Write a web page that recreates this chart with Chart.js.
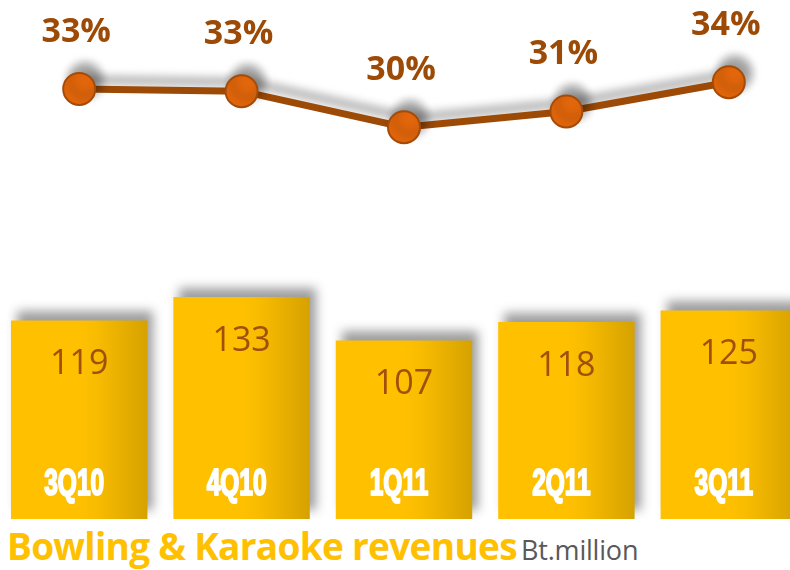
<!DOCTYPE html>
<html>
<head>
<meta charset="utf-8">
<script src="https://cdn.jsdelivr.net/npm/chart.js@4.4.0/dist/chart.umd.min.js"></script>
<style>
  html, body { margin: 0; padding: 0; background: #fff; overflow: hidden; width: 790px; height: 570px; }
  #wrap { position: absolute; left: -2px; top: 0; width: 812px; height: 519px; }
  #title { position: absolute; left: 7px; top: 520px; white-space: nowrap; font-family: "Open Sans", sans-serif; }
  #title b { color: #FFC000; font-size: 37px; font-weight: 700; letter-spacing: -0.7px; }
  #title span { color: #595959; font-size: 27px; letter-spacing: -0.2px; }
</style>
</head>
<body>
<div id="wrap"><canvas id="comboChart"></canvas></div>
<div id="title"><b>Bowling &amp; Karaoke revenues</b> <span>Bt.million</span></div>
<script>
/*--Data--*/
var categories = ['3Q10', '4Q10', '1Q11', '2Q11', '3Q11'];
var revenues = [119, 133, 107, 118, 125];
var margins = [33.4, 33.2, 30.0, 31.4, 34.0];
/*--------*/

var brown = '#9C4A06';

function barGradient(context) {
  var chart = context.chart;
  var xs = chart.scales.x;
  if (!xs || context.dataIndex === undefined) return '#FFC000';
  var cx = xs.getPixelForValue(context.dataIndex);
  var w = (xs.width / categories.length) * 0.84;
  if (!isFinite(cx) || !isFinite(w) || w <= 0) return '#FFC000';
  var g = chart.ctx.createLinearGradient(cx - w / 2, 0, cx + w / 2, 0);
  g.addColorStop(0, '#FFC000');
  g.addColorStop(0.5, '#FFC000');
  g.addColorStop(0.62, '#F9BC00');
  g.addColorStop(1, '#D6A200');
  return g;
}

// soft grey shadow, offset up and right like the original
var shadowPlugin = {
  id: 'shadow',
  beforeDatasetDraw: function(chart) {
    var ctx = chart.ctx;
    ctx.save();
    ctx.shadowColor = 'rgba(0,0,0,0.38)';
    ctx.shadowBlur = 10;
    ctx.shadowOffsetX = 6;
    ctx.shadowOffsetY = -9;
  },
  afterDatasetDraw: function(chart) {
    chart.ctx.restore();
  }
};

var labelPlugin = {
  id: 'labels',
  afterDatasetsDraw: function(chart) {
    var ctx = chart.ctx;
    ctx.save();
    ctx.textAlign = 'center';
    ctx.textBaseline = 'middle';
    var bottom = chart.chartArea.bottom;

    chart.getDatasetMeta(1).data.forEach(function(el, i) {
      ctx.fillStyle = '#A0500A';
      ctx.font = '34px "Open Sans"';
      ctx.fillText(revenues[i], el.x, el.y + 44);
      // condensed heavy quarter label
      ctx.save();
      ctx.translate(el.x - 5, bottom - 34);
      ctx.scale(0.68, 1);
      ctx.fillStyle = '#fff';
      ctx.strokeStyle = '#fff';
      ctx.lineWidth = 2;
      ctx.lineJoin = 'round';
      ctx.font = 'bold 36px "Liberation Sans", sans-serif';
      ctx.strokeText(categories[i], 0, 0);
      ctx.fillText(categories[i], 0, 0);
      ctx.restore();
    });

    chart.getDatasetMeta(0).data.forEach(function(el, i) {
      ctx.fillStyle = brown;
      ctx.font = 'bold 34px "Open Sans"';
      ctx.fillText(Math.round(margins[i]) + '%', el.x - 3, el.y - 57);
    });
    ctx.restore();
  }
};

var comboChart = new Chart('comboChart', {
  data: {
    labels: categories,
    datasets: [
      {
        type: 'line',
        label: 'Margin',
        data: margins,
        yAxisID: 'y2',
        order: 0,
        borderColor: brown,
        borderWidth: 7,
        tension: 0,
        pointRadius: 16,
        pointBackgroundColor: '#E2660B',
        pointBorderColor: '#A54B07',
        pointBorderWidth: 2
      },
      {
        type: 'bar',
        label: 'Revenues',
        data: revenues,
        yAxisID: 'y',
        order: 1,
        backgroundColor: barGradient,
        borderWidth: 0,
        barPercentage: 0.84,
        categoryPercentage: 1
      }
    ]
  },
  options: {
    responsive: true,
    maintainAspectRatio: false,
    animation: false,
    layout: { padding: 0, autoPadding: false },
    plugins: { legend: { display: false }, tooltip: { enabled: false } },
    scales: {
      x: { display: false, offset: true },
      y: { display: false, min: 0, max: 311 },
      y2: { display: false, min: -4.8, max: 41.3 }
    }
  },
  plugins: [shadowPlugin, labelPlugin]
});
</script>
</body>
</html>
